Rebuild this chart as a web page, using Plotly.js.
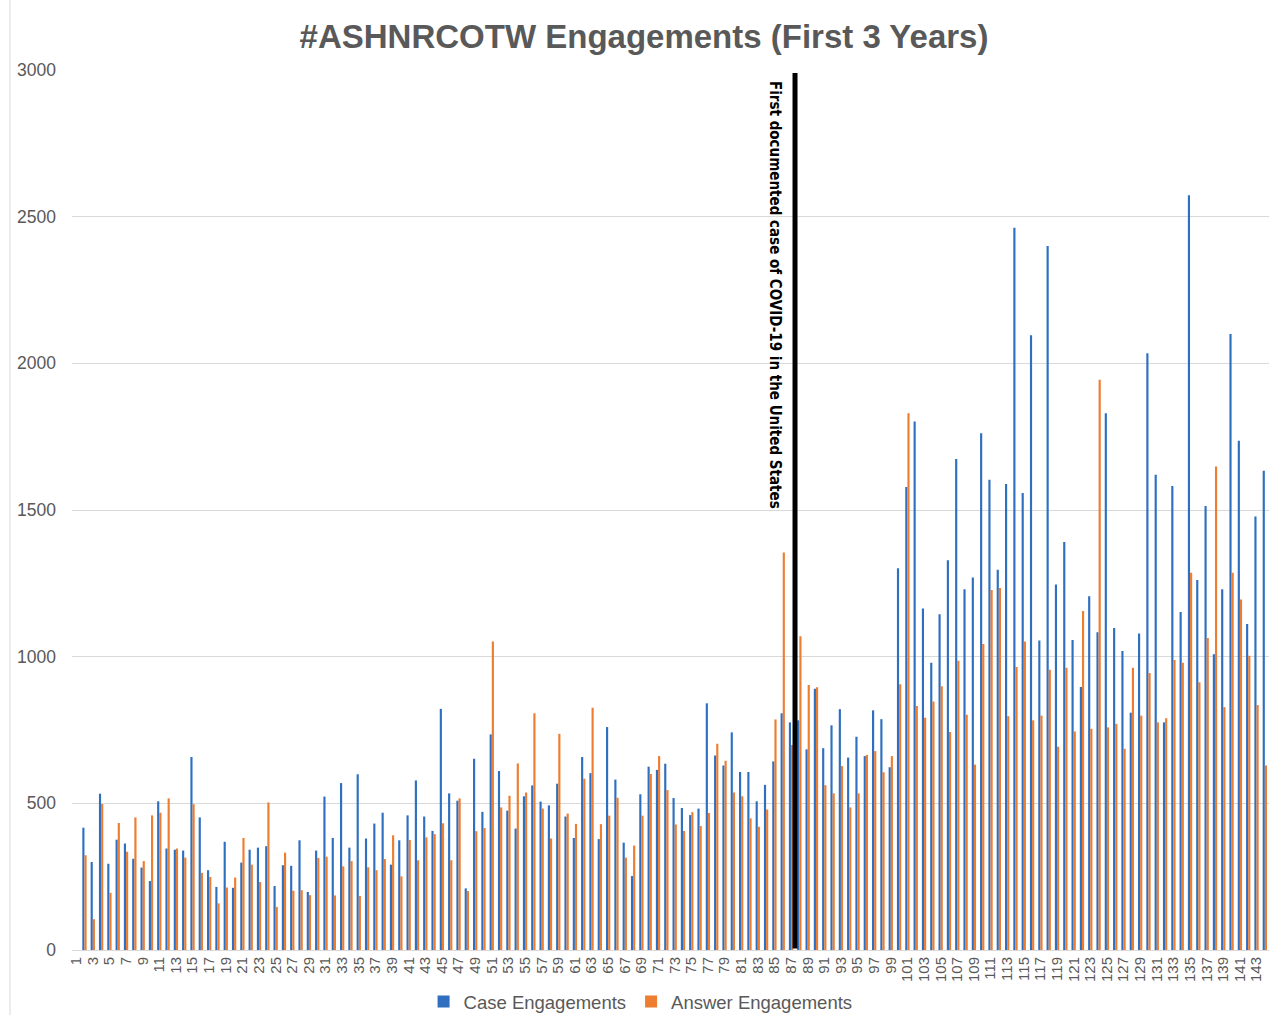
<!DOCTYPE html>
<html>
<head>
<meta charset="utf-8">
<script src="https://cdn.plot.ly/plotly-3.0.1.min.js"></script>
<style>
  html, body { margin: 0; padding: 0; background: #ffffff; }
  #chart { width: 1269px; height: 1015px; }
</style>
</head>
<body>
<div id="chart"></div>
<script>
// Week numbers 1..144 (week 1 has no recorded values)
const weeks = [];
for (let i = 1; i <= 144; i++) weeks.push(String(i));

const caseEngagements = [null,
  417, 300, 533, 294, 376, 363, 311, 281, 235, 507,
  346, 342, 339, 658, 452, 272, 215, 369, 212, 298,
  342, 349, 354, 218, 289, 287, 374, 198, 339, 523,
  382, 569, 349, 599, 380, 431, 468, 291, 374, 459,
  578, 455, 406, 822, 534, 509, 210, 652, 471, 735,
  610, 475, 414, 524, 561, 506, 493, 567, 455, 382,
  658, 603, 378, 760, 581, 366, 252, 531, 625, 614,
  635, 518, 484, 460, 482, 841, 663, 629, 742, 607,
  607, 507, 563, 643, 807, 776, 783, 684, 891, 688,
  766, 821, 656, 727, 661, 817, 787, 623, 1301, 1578,
  1802, 1164, 979, 1145, 1329, 1674, 1230, 1270, 1762, 1603,
  1296, 1589, 2462, 1558, 2096, 1055, 2400, 1246, 1391, 1057,
  897, 1206, 1083, 1830, 1098, 1019, 809, 1079, 2034, 1620,
  776, 1582, 1152, 2573, 1261, 1514, 1008, 1230, 2100, 1736,
  1111, 1478, 1634];

const answerEngagements = [null,
  323, 105, 498, 195, 433, 335, 452, 303, 459, 468,
  517, 346, 315, 497, 263, 249, 159, 213, 247, 382,
  291, 232, 503, 147, 332, 202, 204, 187, 314, 318,
  186, 285, 303, 184, 282, 272, 310, 391, 251, 375,
  306, 384, 395, 432, 306, 517, 201, 405, 416, 1052,
  486, 526, 636, 537, 807, 482, 380, 737, 465, 430,
  584, 826, 429, 458, 519, 315, 356, 458, 600, 661,
  545, 428, 406, 470, 423, 467, 703, 645, 537, 524,
  449, 420, 479, 786, 1355, 699, 1070, 903, 896, 562,
  534, 627, 486, 534, 665, 678, 606, 661, 906, 1830,
  832, 792, 847, 899, 743, 986, 802, 632, 1043, 1227,
  1234, 797, 965, 1052, 783, 799, 955, 693, 962, 745,
  1156, 754, 1944, 759, 771, 686, 962, 799, 944, 776,
  790, 989, 979, 1286, 913, 1064, 1648, 828, 1286, 1195,
  1003, 835, 629];

const tickLabels = weeks.filter((w, i) => i % 2 === 0);
const yTicks = [0, 500, 1000, 1500, 2000, 2500, 3000];

const titleText = '#ASHNRCOTW Engagements (First 3 Years)';
const seriesNames = ['Case Engagements', 'Answer Engagements'];
const covidNote = 'First documented case of COVID-19 in the United States';
const covidLinePos = 86.48;   // category-axis position of the marker line
const covidTextPos = 84.07;

const gray = '#595959';
const font = 'Liberation Sans, Arial, sans-serif';

const traces = [
  { type: 'bar', name: seriesNames[0], x: weeks, y: caseEngagements,
    marker: { color: '#2E6FC0' }, hoverinfo: 'x+y' },
  { type: 'bar', name: seriesNames[1], x: weeks, y: answerEngagements,
    marker: { color: '#ED7D31' }, hoverinfo: 'x+y' }
];

const layout = {
  width: 1269, height: 1015,
  paper_bgcolor: '#ffffff', plot_bgcolor: '#ffffff',
  margin: { l: 72, r: 0, t: 70, b: 65, autoexpand: false },
  font: { family: font, color: gray },
  title: {
    text: '<b>' + titleText + '</b>',
    font: { family: font, size: 33, color: gray },
    x: 0.5075, xref: 'container', xanchor: 'center',
    y: 0.9645, yref: 'container', yanchor: 'middle'
  },
  barmode: 'group', bargap: 0.48, bargroupgap: 0,
  xaxis: {
    type: 'category', categoryorder: 'array', categoryarray: weeks,
    range: [-0.5, 143.5],
    tickmode: 'array', tickvals: tickLabels, ticktext: tickLabels,
    tickangle: -90, tickfont: { family: font, size: 15, color: gray },
    showgrid: false, showline: true, linecolor: '#D9D9D9', linewidth: 1,
    ticks: '', ticklen: 0, zeroline: false, fixedrange: true
  },
  yaxis: {
    range: [0, 3000], tickmode: 'array', tickvals: yTicks,
    tickfont: { family: font, size: 17.5, color: gray },
    showgrid: true, gridcolor: '#D9D9D9', gridwidth: 1,
    zeroline: false, showline: false, ticks: '', ticklabelstandoff: 15,
    fixedrange: true
  },
  showlegend: true,
  legend: {
    orientation: 'h', x: 0.475, xanchor: 'center', y: -0.059, yanchor: 'middle',
    font: { family: font, size: 18.5, color: gray }, itemwidth: 30,
    traceorder: 'normal'
  },
  shapes: [
    { type: 'line', xref: 'x', yref: 'y', x0: covidLinePos, x1: covidLinePos,
      y0: 5, y1: 2990, line: { color: '#000000', width: 5 } },
    { type: 'line', xref: 'paper', yref: 'paper', x0: -0.0518, x1: -0.0518,
      y0: -0.08, y1: 1.08, line: { color: '#D9D9D9', width: 1 } }
  ],
  annotations: [
    { xref: 'x', yref: 'y', x: covidTextPos, y: 2233, text: '<b>' + covidNote + '</b>',
      textangle: 90, showarrow: false, xanchor: 'center', yanchor: 'middle',
      font: { family: 'Liberation Sans Narrow, DejaVu Sans Condensed, Arial Narrow, sans-serif', size: 15, color: '#000000' } }
  ]
};

Plotly.newPlot('chart', traces, layout, { displayModeBar: false, staticPlot: true });
</script>
</body>
</html>
